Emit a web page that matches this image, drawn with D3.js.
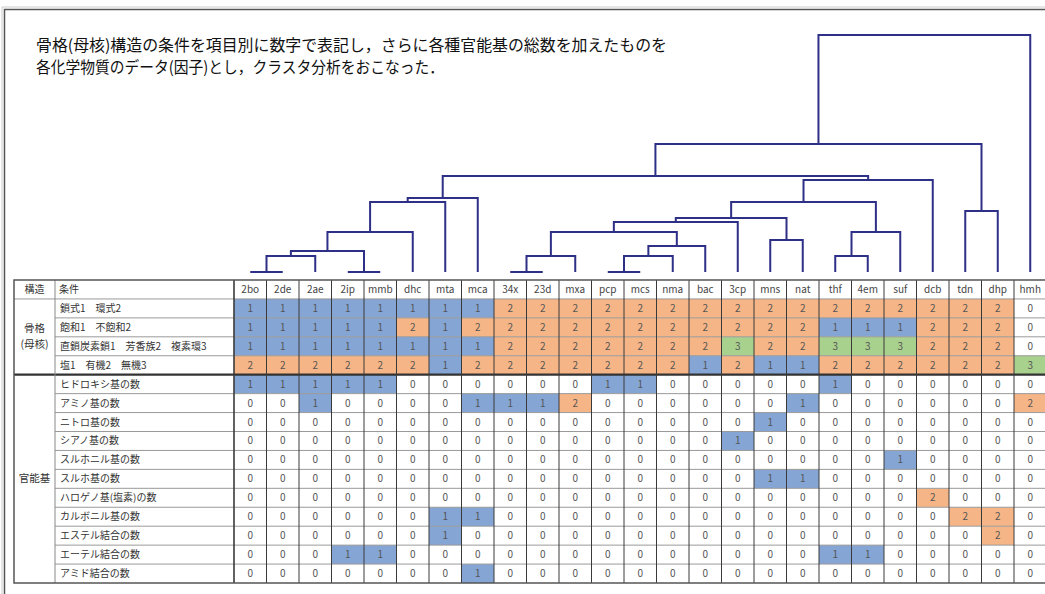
<!DOCTYPE html>
<html><head><meta charset="utf-8">
<script src="https://cdn.jsdelivr.net/npm/d3@7/dist/d3.min.js"></script>
<style>
body{margin:0;background:#fff}
svg{display:block}
text{font-family:"Noto Sans CJK JP","Noto Sans",sans-serif}
</style>
</head><body>
<svg id="c" width="1045" height="594"></svg>
<script>
// ---------- data ----------
const titleLines = [
  "骨格(母核)構造の条件を項目別に数字で表記し，さらに各種官能基の総数を加えたものを",
  "各化学物質のデータ(因子)とし，クラスタ分析をおこなった．"
];
const columns = ["2bo","2de","2ae","2ip","mmb","dhc","mta","mca","34x","23d","mxa","pcp","mcs","nma","bac","3cp","mns","nat","thf","4em","suf","dcb","tdn","dhp","hmh"];
const headerLabels = ["構造","条件"];
const groupNames = [["骨格","(母核)"],["官能基"]];
const groupSizes = [4, 11];
const rowLabels = [
  "鎖式1 環式2",
  "飽和1 不飽和2",
  "直鎖炭素鎖1 芳香族2 複素環3",
  "塩1 有機2 無機3",
  "ヒドロキシ基の数",
  "アミノ基の数",
  "ニトロ基の数",
  "シアノ基の数",
  "スルホニル基の数",
  "スルホ基の数",
  "ハロゲノ基(塩素)の数",
  "カルボニル基の数",
  "エステル結合の数",
  "エーテル結合の数",
  "アミド結合の数"
];
const rowChain      = [1,1,1,1,1,1,1,1,2,2,2,2,2,2,2,2,2,2,2,2,2,2,2,2,0];
const rowSaturation = [1,1,1,1,1,2,1,2,2,2,2,2,2,2,2,2,2,2,1,1,1,2,2,2,0];
const rowRing       = [1,1,1,1,1,1,1,1,2,2,2,2,2,2,2,3,2,2,3,3,3,2,2,2,0];
const rowSalt       = [2,2,2,2,2,2,1,2,2,2,2,2,2,2,1,2,1,1,2,2,2,2,2,2,3];
const rowHydroxy    = [1,1,1,1,1,0,0,0,0,0,0,1,1,0,0,0,0,0,1,0,0,0,0,0,0];
const rowAmino      = [0,0,1,0,0,0,0,1,1,1,2,0,0,0,0,0,0,1,0,0,0,0,0,0,2];
const rowNitro      = [0,0,0,0,0,0,0,0,0,0,0,0,0,0,0,0,1,0,0,0,0,0,0,0,0];
const rowCyano      = [0,0,0,0,0,0,0,0,0,0,0,0,0,0,0,1,0,0,0,0,0,0,0,0,0];
const rowSulfonyl   = [0,0,0,0,0,0,0,0,0,0,0,0,0,0,0,0,0,0,0,0,1,0,0,0,0];
const rowSulfo      = [0,0,0,0,0,0,0,0,0,0,0,0,0,0,0,0,1,1,0,0,0,0,0,0,0];
const rowHalogen    = [0,0,0,0,0,0,0,0,0,0,0,0,0,0,0,0,0,0,0,0,0,2,0,0,0];
const rowCarbonyl   = [0,0,0,0,0,0,1,1,0,0,0,0,0,0,0,0,0,0,0,0,0,0,2,2,0];
const rowEster      = [0,0,0,0,0,0,1,0,0,0,0,0,0,0,0,0,0,0,0,0,0,0,0,2,0];
const rowEther      = [0,0,0,1,1,0,0,0,0,0,0,0,0,0,0,0,0,0,1,1,0,0,0,0,0];
const rowAmide      = [0,0,0,0,0,0,0,1,0,0,0,0,0,0,0,0,0,0,0,0,0,0,0,0,0];
const values = [rowChain,rowSaturation,rowRing,rowSalt,rowHydroxy,rowAmino,rowNitro,rowCyano,
  rowSulfonyl,rowSulfo,rowHalogen,rowCarbonyl,rowEster,rowEther,rowAmide];
// linkage: [left, right, distance]; indices < 25 are leaves, >= 25 are earlier merges
const merges = [
  [0,1,0],      //25
  [25,2,0.68],  //26
  [3,4,0],      //27
  [26,27,0.89], //28
  [28,5,1.69],  //29
  [29,6,2.95],  //30
  [30,7,3.12],  //31
  [8,9,0],      //32
  [32,10,0.68], //33
  [11,12,0],    //34
  [34,13,0.68], //35
  [35,14,1.10], //36
  [33,36,1.69], //37
  [37,15,2.11], //38
  [16,17,1.35], //39
  [38,39,2.28], //40
  [18,19,0.68], //41
  [41,20,1.69], //42
  [40,42,2.95], //43
  [43,21,3.88], //44
  [31,44,4.05], //45
  [22,23,2.57], //46
  [45,46,5.40], //47
  [47,24,10.0]  //48
];
const valueColors = ["#ffffff","#85a5d4","#f6b586","#a9d18e"];

// ---------- layout ----------
const svg = d3.select("#c");
const tableLeft = 14, labelLeft = 55, dataLeft = 234, dataRight = 1046.5;
const tableTop = 280, tableBottom = 583;
const x = d3.scaleBand().domain(columns).range([dataLeft, dataRight]);
const y = d3.scaleBand().domain(d3.range(16)).range([tableTop, tableBottom]);
const color = d3.scaleOrdinal().domain([0,1,2,3]).range(valueColors);

// frame
svg.append("path").attr("d","M4.5,700 V9.5 H1100").attr("fill","none").attr("stroke","#555").attr("stroke-width",1.5);
svg.append("path").attr("d","M2,700 V7 H1100").attr("fill","none").attr("stroke","#ccc").attr("stroke-width",1);

// title
svg.selectAll("text.title").data(titleLines).join("text").attr("class","title")
  .attr("x",36).attr("y",(d,i)=>51+i*22)
  .attr("font-size",16).attr("fill","#111")
  .attr("textLength",(d,i)=>i===0?631:408).attr("lengthAdjust","spacingAndGlyphs")
  .text(d=>d);

// ---------- dendrogram ----------
const h = d3.scaleLinear().domain([0,10]).range([272,35]);
function build(i){
  if(i < columns.length) return {name: columns[i], height: 0};
  const m = merges[i - columns.length];
  return {height: m[2], children: [build(m[0]), build(m[1])]};
}
const root = d3.hierarchy(build(columns.length + merges.length - 1));
root.eachAfter(n => {
  n.px = n.children ? d3.mean(n.children, c => c.px) : x(n.data.name) + x.bandwidth()/2;
  n.py = h(n.data.height);
});
const internal = root.descendants().filter(n => n.children);
svg.append("g").selectAll("path").data(internal).join("path")
  .attr("d", n => {
    const [a,b] = n.children;
    const p = d3.path();
    p.moveTo(a.px, a.py); p.lineTo(a.px, n.py); p.lineTo(b.px, n.py); p.lineTo(b.px, b.py);
    return p.toString();
  })
  .attr("fill","none").attr("stroke","#2e2f86").attr("stroke-width",2);

// ---------- table ----------
const cells = [];
values.forEach((row,r) => row.forEach((v,c) => cells.push({r, c, v})));
const tg = svg.append("g");
tg.append("rect").attr("x",tableLeft).attr("y",tableTop).attr("width",dataRight-tableLeft).attr("height",tableBottom-tableTop).attr("fill","#fff");
tg.selectAll("rect.cell").data(cells).join("rect").attr("class","cell")
  .attr("x", d => x(columns[d.c])).attr("y", d => y(d.r+1))
  .attr("width", x.bandwidth()).attr("height", y.bandwidth())
  .attr("fill", d => color(d.v));

// horizontal lines
const hLines = [];
for(let i=1;i<16;i++){
  const yy = y(i);
  const groupBoundary = (i===1 || i===5);
  hLines.push({y: yy, x0: groupBoundary ? tableLeft : labelLeft, thick: i===5});
}
tg.selectAll("line.h").data(hLines).join("line").attr("class","h")
  .attr("x1",d=>d.x0).attr("x2",dataRight).attr("y1",d=>d.y).attr("y2",d=>d.y)
  .attr("stroke",d=>d.thick?"#333":"#9a9a9a").attr("stroke-width",d=>d.thick?2.2:1);
// vertical lines
const vx = [labelLeft, dataLeft].concat(columns.slice(1).map(c => x(c)));
tg.selectAll("line.v").data(vx).join("line").attr("class","v")
  .attr("x1",d=>d).attr("x2",d=>d).attr("y1",tableTop).attr("y2",tableBottom)
  .attr("stroke",(d,i)=> i===0 ? "#888" : "#3a3a3a").attr("stroke-width",(d,i)=> i===1?1.6:1);
// outer border
tg.append("rect").attr("x",tableLeft).attr("y",tableTop).attr("width",dataRight-tableLeft).attr("height",tableBottom-tableTop)
  .attr("fill","none").attr("stroke","#555").attr("stroke-width",1.5);

// cell numbers
tg.selectAll("text.num").data(cells).join("text").attr("class","num")
  .attr("x", d => x(columns[d.c]) + x.bandwidth()/2).attr("y", d => y(d.r+1) + y.bandwidth()/2 + 3.5)
  .attr("text-anchor","middle").attr("font-size",10).attr("fill","#555")
  .text(d => d.v);
// column headers
tg.selectAll("text.col").data(columns).join("text").attr("class","col")
  .attr("x", d => x(d) + x.bandwidth()/2).attr("y", y(0) + y.bandwidth()/2 + 3.5)
  .attr("text-anchor","middle").attr("font-size",10).attr("fill","#444")
  .text(d => d);
// header labels
tg.append("text").attr("x",(tableLeft+labelLeft)/2).attr("y",y(0)+y.bandwidth()/2+3.5)
  .attr("text-anchor","middle").attr("font-size",10).attr("fill","#333").text(headerLabels[0]);
tg.append("text").attr("x",labelLeft+4).attr("y",y(0)+y.bandwidth()/2+3.5)
  .attr("font-size",10).attr("fill","#333").text(headerLabels[1]);
// row labels
tg.selectAll("text.row").data(rowLabels).join("text").attr("class","row")
  .attr("x",labelLeft+5).attr("y",(d,i)=>y(i+1)+y.bandwidth()/2+3.5)
  .attr("font-size",10).attr("fill","#333").attr("xml:space","preserve")
  .text(d => d.replace(/ /g,"\u3000"));
// group labels
let start = 1;
groupNames.forEach((lines,g) => {
  const y0 = y(start), y1 = y(start + groupSizes[g] - 1) + y.bandwidth();
  const cy = (y0+y1)/2;
  lines.forEach((t,k) => {
    tg.append("text").attr("x",(tableLeft+labelLeft)/2)
      .attr("y", cy + (k - (lines.length-1)/2)*16 + 3.5)
      .attr("text-anchor","middle").attr("font-size",10.5).attr("fill","#333").text(t);
  });
  start += groupSizes[g];
});
</script>
</body></html>
